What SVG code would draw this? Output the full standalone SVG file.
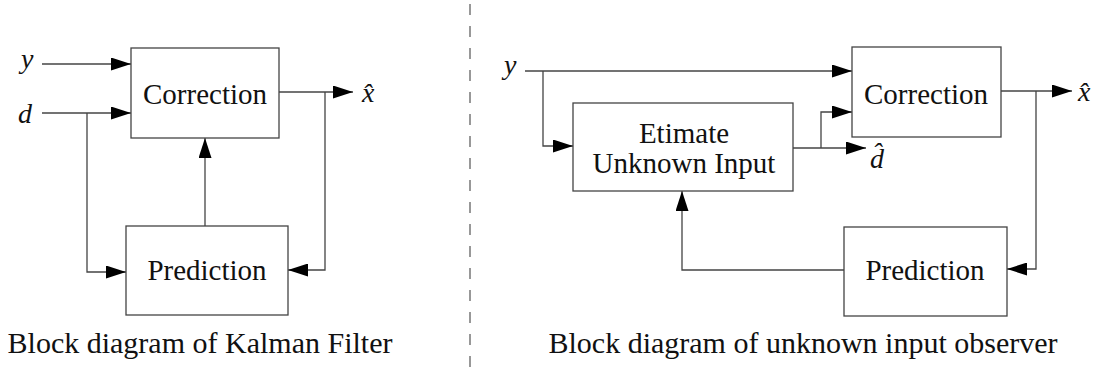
<svg xmlns="http://www.w3.org/2000/svg" width="1098" height="368" viewBox="0 0 1098 368">
<defs>
<marker id="arr" markerWidth="20" markerHeight="13" refX="20" refY="6.5" orient="auto" markerUnits="userSpaceOnUse">
<path d="M0,0 L20,6.5 L0,13 z" fill="#000"/>
</marker>
<style>
.box{fill:#fff;stroke:#444;stroke-width:1.3}
.lbl{font-family:"Liberation Serif","Times New Roman",serif;font-size:29px;fill:#111;text-anchor:middle}
.cap{font-family:"Liberation Serif","Times New Roman",serif;font-size:30px;fill:#111;text-anchor:middle}
.math{font-family:"Liberation Serif","Times New Roman",serif;font-size:28px;font-style:italic;fill:#111}
.ln{fill:none;stroke:#444;stroke-width:1.3}
.ar{marker-end:url(#arr)}
</style>
</defs>
<rect width="1098" height="368" fill="#fff"/>
<line x1="470" y1="4" x2="470" y2="368" stroke="#777" stroke-width="1.5" stroke-dasharray="11 11"/>
<g id="connectors">
<path class="ln ar" d="M42,64 H131"/>
<path class="ln ar" d="M42,113 H131"/>
<path class="ln ar" d="M87,113 V272 H126"/>
<path class="ln ar" d="M279,92 H353"/>
<path class="ln ar" d="M325,92 V270 H288"/>
<path class="ln ar" d="M205,226 V138"/>
<path class="ln ar" d="M525,71 H852"/>
<path class="ln ar" d="M543,71 V146 H573"/>
<path class="ln ar" d="M793,148 H866"/>
<path class="ln ar" d="M821,148 V112 H852"/>
<path class="ln ar" d="M1001,91 H1072"/>
<path class="ln ar" d="M1036,91 V269 H1007"/>
<path class="ln ar" d="M844,270 H682 V191"/>
</g>
<g id="kf-correction"><rect class="box" x="131" y="48" width="148" height="90"/><text class="lbl" x="205" y="104">Correction</text></g>
<g id="kf-prediction"><rect class="box" x="126" y="226" width="162" height="89"/><text class="lbl" x="207" y="280">Prediction</text></g>
<g id="uio-estimate"><rect class="box" x="573" y="103" width="220" height="88"/><text class="lbl" x="684" y="143">Etimate</text><text class="lbl" x="684" y="173">Unknown Input</text></g>
<g id="uio-correction"><rect class="box" x="852" y="47" width="149" height="90"/><text class="lbl" x="926" y="104">Correction</text></g>
<g id="uio-prediction"><rect class="box" x="844" y="227" width="163" height="89"/><text class="lbl" x="925" y="280">Prediction</text></g>
<g id="labels">
<text class="math" x="21" y="68">y</text>
<text class="math" x="18" y="123">d</text>
<text class="math" x="362" y="102">x̂</text>
<text class="math" x="504" y="74">y</text>
<text class="math" x="870" y="168">d̂</text>
<text class="math" x="1078" y="101">x̂</text>
</g>
<text class="cap" x="200" y="353">Block diagram of Kalman Filter</text>
<text class="cap" x="803" y="353">Block diagram of unknown input observer</text>
</svg>
